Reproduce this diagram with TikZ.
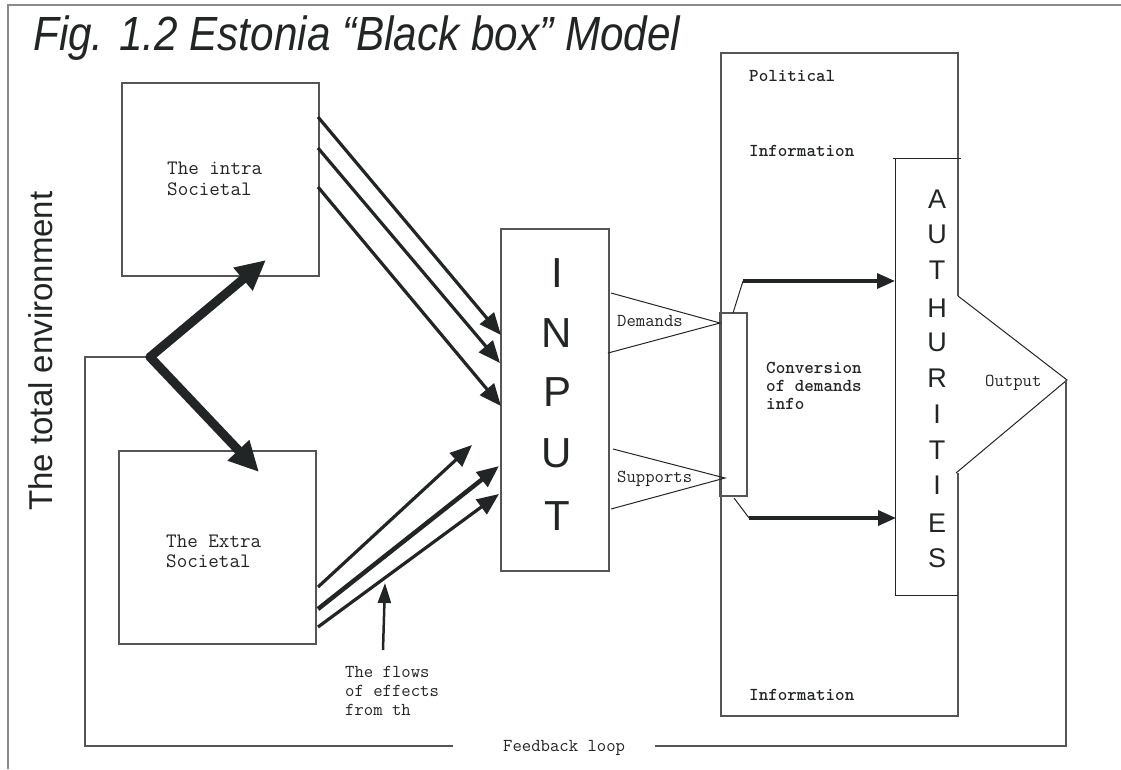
\documentclass[tikz,border=0pt]{standalone}
\usepackage{graphicx}
\usepackage{fontspec}
\setmainfont{Liberation Sans}
\newfontfamily\monobf{lmmonolt10-bold.otf}
\usetikzlibrary{arrows.meta}

\definecolor{ink}{HTML}{222526}
\definecolor{boxgray}{HTML}{555555}
\definecolor{framegray}{HTML}{8A8A8A}

\begin{document}
\begin{tikzpicture}[x=1pt,y=-1pt,
  box/.style={draw=boxgray, line width=1.2pt, inner sep=0pt, fill=none},
  frame/.style={draw=framegray, line width=2pt},
  loopline/.style={draw=boxgray, line width=1.3pt},
  thinline/.style={draw=ink, line width=1pt},
  flow/.style={draw=ink, line width=3.2pt, -{Triangle[length=22pt,width=18pt]}},
  heavyflow/.style={draw=ink, line width=9pt, line cap=round,
                    -{Triangle[length=30pt,width=28pt]}},
  pointer/.style={draw=ink, line width=3.5pt, -{Triangle[length=18pt,width=15pt]}},
  monotext/.style={inner sep=0pt, anchor=base west, text=ink,
                   font=\ttfamily\fontsize{18.2}{19}\selectfont},
  monobold/.style={monotext, font=\monobf\fontsize{18.2}{19}\selectfont},
  boxtext/.style={monotext, font=\ttfamily\fontsize{20.5}{21}\selectfont},
  bigletter/.style={inner sep=0pt, anchor=base, text=ink,
                    font=\fontsize{42}{42}\selectfont},
  midletter/.style={inner sep=0pt, anchor=base, text=ink,
                    font=\fontsize{27}{27}\selectfont}
]
\useasboundingbox (0,0) rectangle (1121,769);

% outer page frame
\draw[frame] (8,769) -- (8,5) -- (1121,5);

% title and side caption
\node[inner sep=0pt, anchor=base west, text=ink] (title) at (33,50)
  {\scalebox{0.88}[1]{\fontsize{48}{48}\selectfont\itshape Fig. 1.2 Estonia “Black box” Model}};
\node[inner sep=0pt, anchor=base, rotate=90, text=ink,
      font=\fontsize{33}{33}\selectfont] (envlabel) at (52,351) {The total environment};

% environment boxes
\node[box, minimum width=197pt, minimum height=193pt] (intra) at (220.5,179.5) {};
\node[box, minimum width=197pt, minimum height=193pt] (extra) at (217.5,547.5) {};
\node[boxtext] (intraA) at (167,174) {The intra};
\node[boxtext] (intraB) at (167,195) {Societal};
\node[boxtext] (extraA) at (166,547) {The Extra};
\node[boxtext] (extraB) at (166,567) {Societal};

% input box
\node[box, minimum width=108pt, minimum height=342pt] (input) at (555,400) {};
\foreach \ch/\yy [count=\i] in {I/287,N/347,P/406,U/467,T/530}
  \node[bigletter] (inp\i) at (557,\yy) {\ch};

% political system box with opening for the output wedge
\coordinate (polA) at (958,296);
\coordinate (polB) at (958,53);
\coordinate (polC) at (721,53);
\coordinate (polD) at (721,716);
\coordinate (polE) at (958,716);
\coordinate (polF) at (956,473);
\coordinate (outtip) at (1067,380);
\draw[box] (polA) -- (polB) -- (polC) -- (polD) -- (polE) -- (958,473);
\draw[thinline] (polA) -- (outtip) -- (polF);

% authorities box
\coordinate (auA) at (893,158);
\coordinate (auB) at (961,158);
\coordinate (auC) at (895,158);
\coordinate (auD) at (895,595);
\coordinate (auE) at (958,595);
\draw[thinline] (auA) -- (auB);
\draw[thinline] (auC) -- (auD) -- (auE);
\foreach \ch/\yy [count=\i] in {A/208,U/243,T/279,H/317,U/351,R/387,I/423,T/459,I/494,E/532,S/567}
  \node[midletter] (aut\i) at (937,\yy) {\ch};

% conversion strip
\node[box, minimum width=27pt, minimum height=183pt] (conv) at (733.5,404.5) {};

% feedback loop
\coordinate (fbtip) at (1066,380);
\coordinate (fbR) at (1066,746);
\coordinate (fbM1) at (655,746);
\coordinate (fbM2) at (453,746);
\coordinate (fbL) at (85,746);
\coordinate (fbLT) at (85,357);
\coordinate (hub) at (150,357);
\draw[loopline] (fbtip) -- (fbR) -- (fbM1);
\draw[loopline] (fbM2) -- (fbL) -- (fbLT) -- (hub);
\node[monotext] (fblabel) at (503,751) {Feedback loop};

% environment to the two societal boxes
\coordinate (hubI) at (266,260);
\coordinate (hubE) at (259,472);
\draw[heavyflow] (hub) -- (hubI);
\draw[heavyflow] (hub) -- (hubE);

% flows from the intra-societal box
\coordinate (i1) at (318,117);
\coordinate (i2) at (318,148);
\coordinate (i3) at (318,187);
\coordinate (n1) at (501,335);
\coordinate (n2) at (500,363);
\coordinate (n3) at (501,406);
\draw[flow] (i1) -- (n1);
\draw[flow] (i2) -- (n2);
\draw[flow] (i3) -- (n3);

% flows from the extra-societal box
\coordinate (e1) at (318,587);
\coordinate (e2) at (318,609);
\coordinate (e3) at (318,627);
\coordinate (m1) at (472,445);
\coordinate (m2) at (499,466);
\coordinate (m3) at (499,494);
\draw[flow] (e1) -- (m1);
\draw[flow, line width=4.5pt] (e2) -- (m2);
\draw[flow] (e3) -- (m3);

% pointer to the flows caption
\coordinate (fpS) at (383,650);
\coordinate (fpT) at (385,583);
\draw[draw=ink, line width=2.5pt, -{Triangle[length=20pt,width=13pt]}] (fpS) -- (fpT);
\node[monotext] (flowsA) at (345,677) {The flows};
\node[monotext] (flowsB) at (345,696) {of effects};
\node[monotext] (flowsC) at (345,715) {from th};

% demands and supports wedges
\coordinate (dA) at (611,293);
\coordinate (dT) at (720,323);
\coordinate (dB) at (608,353);
\coordinate (sA) at (613,449);
\coordinate (sT) at (725,478);
\coordinate (sB) at (611,509);
\draw[thinline] (dA) -- (dT) -- (dB);
\draw[thinline] (sA) -- (sT) -- (sB);
\node[monotext] (demands) at (617,326) {Demands};
\node[monotext] (supports) at (617,482) {Supports};

% conversion to authorities
\coordinate (cu0) at (733,313);
\coordinate (cu1) at (743,281);
\coordinate (cu2) at (895,281);
\coordinate (cl0) at (734,498);
\coordinate (cl1) at (749,518);
\coordinate (cl2) at (896,518);
\draw[thinline] (cu0) -- (cu1);
\draw[pointer] (cu1) -- (cu2);
\draw[thinline] (cl0) -- (cl1);
\draw[pointer] (cl1) -- (cl2);

% labels in the political system
\node[monobold] (polit) at (749,81) {Political};
\node[monobold] (infoTop) at (749,156) {Information};
\node[monobold] (infoBot) at (749,700) {Information};
\node[monobold] (convA) at (766,373) {Conversion};
\node[monobold] (convB) at (766,391) {of demands};
\node[monobold] (convC) at (766,409) {info};
\node[monotext] (output) at (985,386) {Output};
\end{tikzpicture}
\end{document}
